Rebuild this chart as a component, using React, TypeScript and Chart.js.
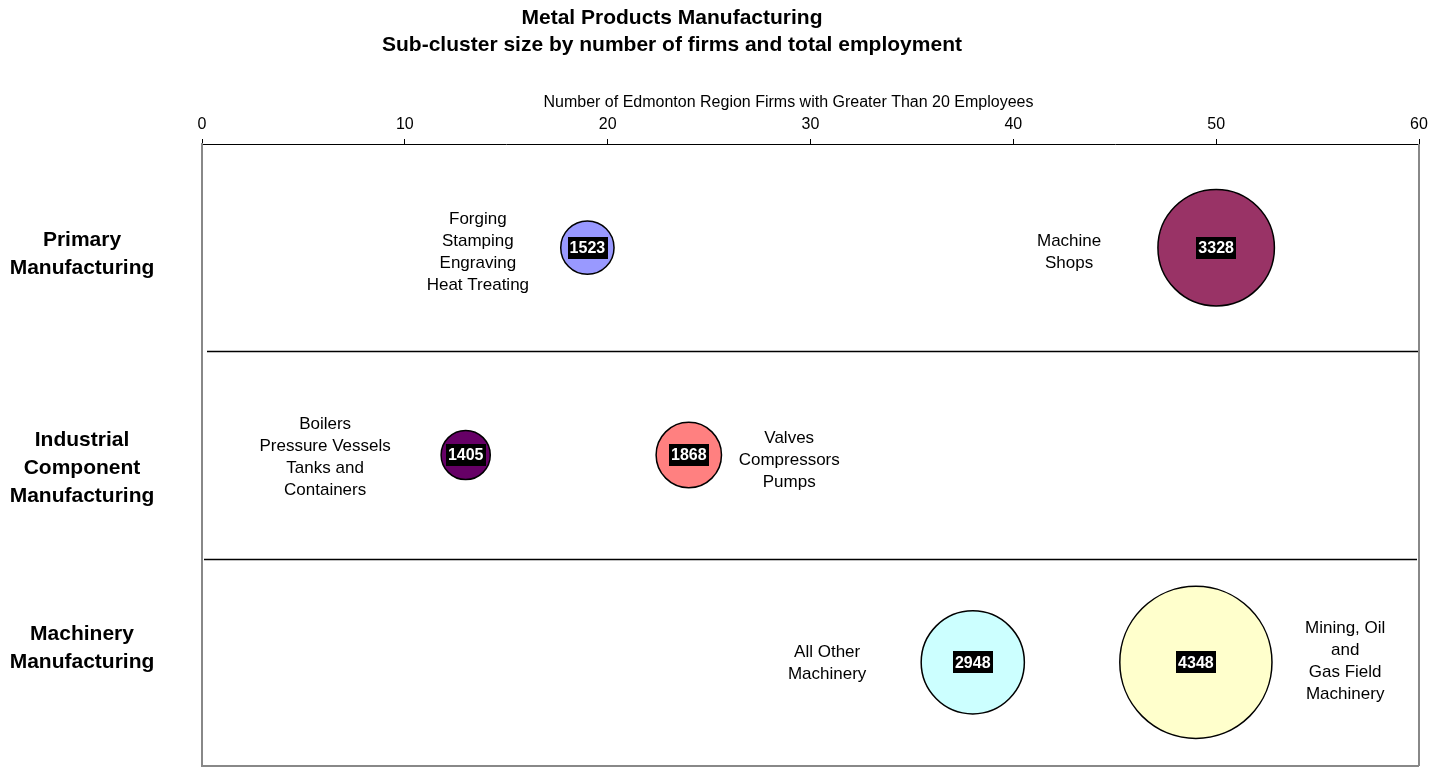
import React, { useEffect, useRef } from "react";
import { Chart, registerables } from "chart.js";

Chart.register(...registerables);

// ---- Data ----
const titleLines = ["Metal Products Manufacturing", "Sub-cluster size by number of firms and total employment"];
const xAxisTitle = "Number of Edmonton Region Firms with Greater Than 20 Employees";
const xTicks = [0, 10, 20, 30, 40, 50, 60];

const rowLabels = ["Primary\nManufacturing", "Industrial\nComponent\nManufacturing", "Machinery\nManufacturing"];

const subClusters = [
  "Forging\nStamping\nEngraving\nHeat Treating",
  "Machine\nShops",
  "Boilers\nPressure Vessels\nTanks and\nContainers",
  "Valves\nCompressors\nPumps",
  "All Other\nMachinery",
  "Mining, Oil\nand\nGas Field\nMachinery",
];
const firms = [19, 50, 13, 24, 38, 49];
const employment = [1523, 3328, 1405, 1868, 2948, 4348];
const rowIndex = [0, 0, 1, 1, 2, 2];
const labelAnchorX = [13.6, 42.75, 6.07, 28.95, 30.82, 56.36];
const colors = ["#9999ff", "#993366", "#660066", "#ff8080", "#ccffff", "#ffffcc"];

const BUBBLE_PX_PER_EMPLOYEE = 0.0175;
const FONT = "'Liberation Sans', Arial, sans-serif";
const ROW_LABEL_NUDGE = [7, 13, -14];
const NAME_NUDGE = [4, 4, 1, 4, 0, -2];

const decorPlugin = {
  id: "decor",
  beforeDatasetsDraw(chart: any) {
    const { ctx, chartArea } = chart;
    const y = chart.scales.y;
    ctx.save();
    ctx.strokeStyle = "#000";
    ctx.lineWidth = 1.5;
    [0.5, 1.5].forEach((v, i) => {
      const py = Math.round(y.getPixelForValue(v)) + 0.5;
      ctx.beginPath();
      ctx.moveTo(chartArea.left + (i === 0 ? 5 : 2), py);
      ctx.lineTo(chartArea.right - (i === 0 ? 0 : 2), py);
      ctx.stroke();
    });
    ctx.strokeStyle = "#888";
    ctx.lineWidth = 2;
    ctx.beginPath();
    ctx.moveTo(chartArea.right, chartArea.top);
    ctx.lineTo(chartArea.right, chartArea.bottom);
    ctx.moveTo(chartArea.left, chartArea.bottom);
    ctx.lineTo(chartArea.right, chartArea.bottom);
    ctx.stroke();
    ctx.restore();
  },
  afterDatasetsDraw(chart: any) {
    const { ctx } = chart;
    const xs = chart.scales.x;
    const ys = chart.scales.y;
    const meta = chart.getDatasetMeta(0);
    ctx.save();
    ctx.font = `bold 16px ${FONT}`;
    ctx.textAlign = "center";
    ctx.textBaseline = "middle";
    meta.data.forEach((el: any, i: number) => {
      const txt = String(employment[i]);
      const w = ctx.measureText(txt).width + 4;
      const h = 22;
      ctx.fillStyle = "#000";
      ctx.fillRect(Math.round(el.x - w / 2), Math.round(el.y - h / 2), Math.round(w), h);
      ctx.fillStyle = "#fff";
      ctx.fillText(txt, el.x, el.y + 1);
    });
    ctx.font = `17px ${FONT}`;
    ctx.fillStyle = "#000";
    const lh = 22;
    subClusters.forEach((name, i) => {
      const lines = name.split("\n");
      const cx = xs.getPixelForValue(labelAnchorX[i]);
      const cy = ys.getPixelForValue(rowIndex[i]) + NAME_NUDGE[i];
      const top = cy - ((lines.length - 1) * lh) / 2;
      lines.forEach((ln, k) => ctx.fillText(ln, cx, top + k * lh + 1));
    });
    ctx.restore();
  },
  afterDraw(chart: any) {
    const { ctx, chartArea } = chart;
    const ys = chart.scales.y;
    ctx.save();
    ctx.fillStyle = "#000";
    ctx.textAlign = "center";
    ctx.textBaseline = "middle";
    ctx.font = `bold 21px ${FONT}`;
    titleLines.forEach((t, i) => ctx.fillText(t, 672, 18 + i * 27));
    // axis title
    ctx.font = `16px ${FONT}`;
    ctx.fillText(xAxisTitle, (chartArea.left + chartArea.right) / 2 - 22, 103);
    // row labels
    ctx.font = `bold 21px ${FONT}`;
    const lh = 28;
    rowLabels.forEach((lab, r) => {
      const lines = lab.split("\n");
      const cy = ys.getPixelForValue(r) + ROW_LABEL_NUDGE[r];
      const top = cy - ((lines.length - 1) * lh) / 2;
      lines.forEach((ln, k) => ctx.fillText(ln, 82, top + k * lh));
    });
    ctx.restore();
  },
};

export default function App() {
  const ref = useRef<HTMLCanvasElement>(null);
  useEffect(() => {
    if (!ref.current) return;
    const chart = new Chart(ref.current, {
      type: "bubble",
      data: {
        datasets: [
          {
            data: firms.map((f, i) => ({ x: f, y: rowIndex[i], r: employment[i] * BUBBLE_PX_PER_EMPLOYEE })),
            backgroundColor: colors,
            borderColor: "#000",
            borderWidth: 1.5,
          },
        ],
      },
      options: {
        responsive: true,
        maintainAspectRatio: false,
        devicePixelRatio: 1,
        animation: false,
        clip: false as any,
        layout: { autoPadding: false, padding: { left: 0, right: 24, top: 0, bottom: 1 } },
        plugins: { legend: { display: false }, title: { display: false }, tooltip: { enabled: false } },
        scales: {
          x: {
            type: "linear",
            position: "top",
            min: 0,
            max: 60,
            afterBuildTicks: (s: any) => {
              s.ticks = xTicks.map((v) => ({ value: v }));
            },
            afterFit: (s: any) => {
              s.height = 144;
            },
            ticks: { color: "#000", font: { family: FONT, size: 16 }, padding: 5 },
            grid: { display: true, drawOnChartArea: false, drawTicks: true, tickLength: 5, color: "#000" },
            border: { display: true, color: "#000", width: 1 },
            title: { display: false },
          },
          y: {
            type: "linear",
            position: "left",
            min: -0.5,
            max: 2.5,
            reverse: true,
            afterFit: (s: any) => {
              s.width = 202;
            },
            ticks: { display: false },
            grid: { display: false },
            border: { display: true, color: "#888", width: 2 },
          },
        },
      },
      plugins: [decorPlugin],
    });
    return () => chart.destroy();
  }, []);
  return (
    <div style={{ position: "fixed", left: 0, top: 0, width: 1443, height: 767, background: "#fff" }}>
      <canvas ref={ref} />
    </div>
  );
}
